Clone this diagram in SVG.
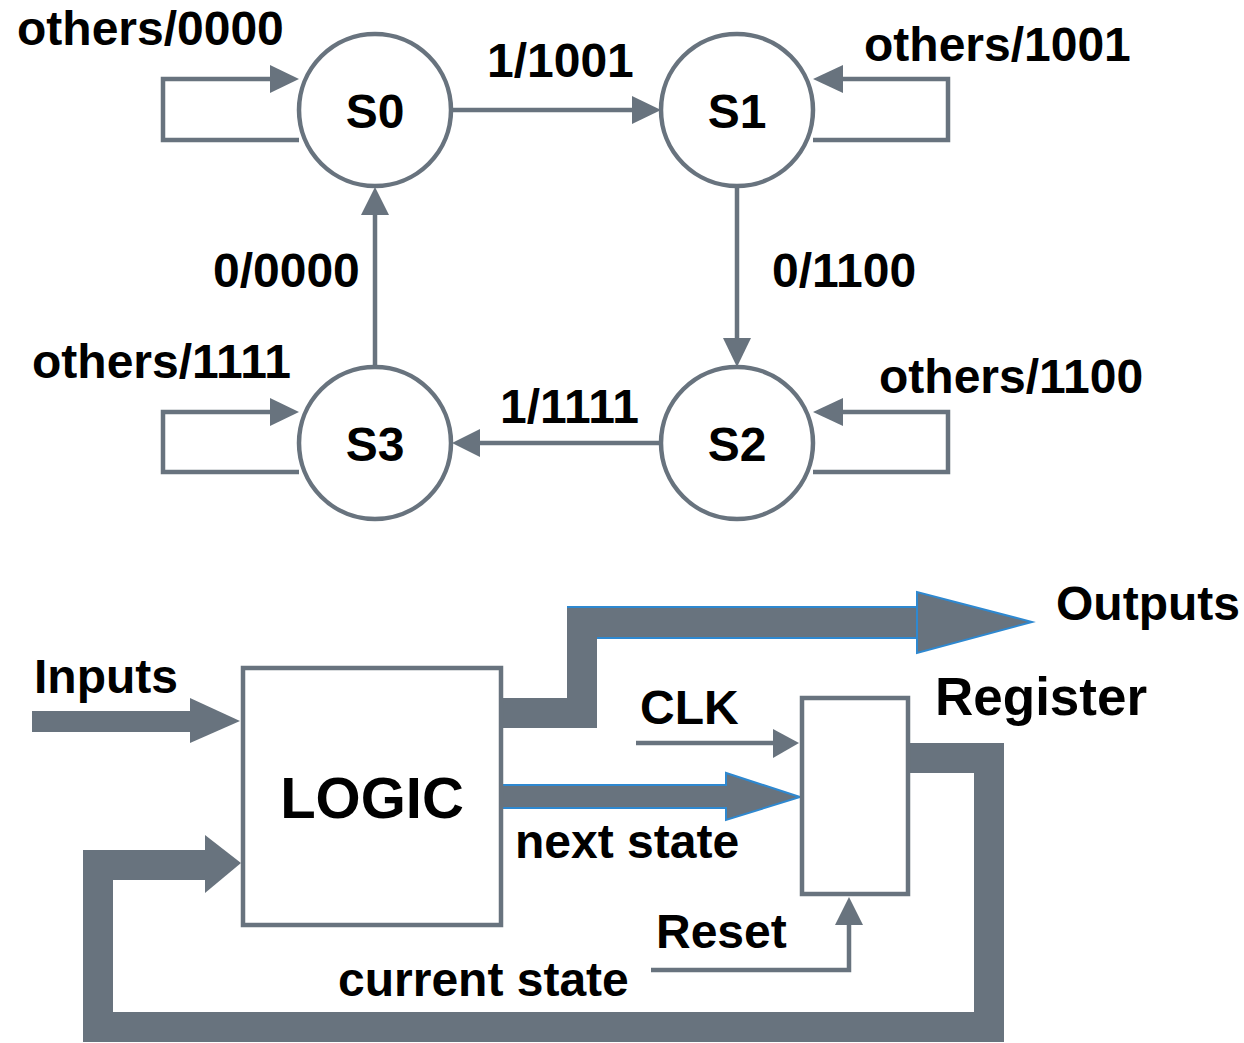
<svg xmlns="http://www.w3.org/2000/svg" width="1244" height="1043" viewBox="0 0 1244 1043">
<style>
text{font-family:"Liberation Sans",Arial,sans-serif;font-weight:bold;fill:#000}
.t{font-size:48px}
.st{fill:#fff;stroke:#68737e;stroke-width:4.5}
.ln{fill:none;stroke:#68737e;stroke-width:4.5}
.hd{fill:#68737e;stroke:none}
.th{fill:none;stroke:#68737e;stroke-width:30;stroke-linejoin:miter}
.bl{fill:#68737e;stroke:#2e88d0;stroke-width:2}
</style>
<rect width="1244" height="1043" fill="#fff"/>
<g id="connectors">
  <polyline class="ln" points="299,140 163,140 163,79 272,79"/>
  <polygon class="hd" points="270,65 299,79 270,93"/>
  <polyline class="ln" points="813,140 948,140 948,79 840,79"/>
  <polygon class="hd" points="843,65 813,79 843,93"/>
  <polyline class="ln" points="299,472 163,472 163,412 272,412"/>
  <polygon class="hd" points="270,398 299,412 270,426"/>
  <polyline class="ln" points="813,472 948,472 948,412 840,412"/>
  <polygon class="hd" points="843,398 813,412 843,426"/>
  <line class="ln" x1="452" y1="110" x2="634" y2="110"/>
  <polygon class="hd" points="632,96 661,110 632,124"/>
  <line class="ln" x1="737" y1="186" x2="737" y2="340"/>
  <polygon class="hd" points="723,338 737,367 751,338"/>
  <line class="ln" x1="661" y1="443" x2="478" y2="443"/>
  <polygon class="hd" points="480,429 452,443 480,457"/>
  <line class="ln" x1="375" y1="367" x2="375" y2="213"/>
  <polygon class="hd" points="361,215 375,187 389,215"/>
  <rect x="32" y="711" width="160" height="21" fill="#68737e"/>
  <polygon class="hd" points="190,698 240,721 190,743"/>
  <polyline class="th" points="500,713 582,713 582,622 918,622"/>
  <line x1="567" y1="607" x2="917" y2="607" stroke="#2e88d0" stroke-width="2"/>
  <line x1="597" y1="638" x2="917" y2="638" stroke="#2e88d0" stroke-width="2"/>
  <polygon class="bl" points="917,607 917,592 1032,622 917,653 917,638"/>
  <polygon class="bl" points="501,785 726,785 726,773 800,797 726,820 726,808 501,808"/>
  <line class="ln" x1="636" y1="743" x2="776" y2="743"/>
  <polygon class="hd" points="773,729 799,743 773,758"/>
  <polyline class="ln" points="651,970 849,970 849,922"/>
  <polygon class="hd" points="835,925 849,897 863,925"/>
  <polyline class="th" points="908,758 989,758 989,1027 98,1027 98,865 207,865"/>
  <polygon class="hd" points="205,835 241,863 205,893"/>
</g>
<g id="S0"><circle class="st" cx="375" cy="110" r="76"/><text class="t" x="375" y="128" text-anchor="middle">S0</text></g>
<g id="S1"><circle class="st" cx="737" cy="110" r="76"/><text class="t" x="737" y="128" text-anchor="middle">S1</text></g>
<g id="S3"><circle class="st" cx="375" cy="443" r="76"/><text class="t" x="375" y="461" text-anchor="middle">S3</text></g>
<g id="S2"><circle class="st" cx="737" cy="443" r="76"/><text class="t" x="737" y="461" text-anchor="middle">S2</text></g>
<g id="LOGIC"><rect class="st" x="243" y="668" width="258" height="257"/><text x="372" y="818" font-size="58" text-anchor="middle">LOGIC</text></g>
<g id="Register"><rect class="st" x="802" y="698" width="106" height="196"/><text x="935" y="715" font-size="53">Register</text></g>
<g id="labels">
  <text class="t" x="17" y="45">others/0000</text>
  <text class="t" x="487" y="77">1/1001</text>
  <text class="t" x="864" y="61">others/1001</text>
  <text class="t" x="213" y="287">0/0000</text>
  <text class="t" x="772" y="287">0/1100</text>
  <text class="t" x="32" y="378">others/1111</text>
  <text class="t" x="879" y="393">others/1100</text>
  <text class="t" x="500" y="423">1/1111</text>
  <text class="t" x="1056" y="620">Outputs</text>
  <text class="t" x="34" y="693">Inputs</text>
  <text class="t" x="640" y="724">CLK</text>
  <text class="t" x="515" y="858">next state</text>
  <text class="t" x="656" y="948">Reset</text>
  <text class="t" x="338" y="996">current state</text>
</g>
</svg>
